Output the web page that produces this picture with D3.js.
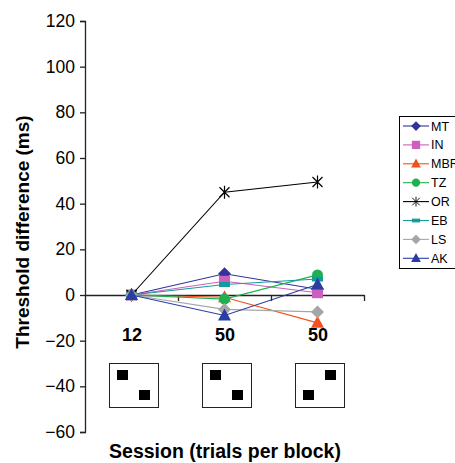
<!DOCTYPE html>
<html>
<head>
<meta charset="utf-8">
<script src="https://cdn.jsdelivr.net/npm/d3@7"></script>
<style>
  html, body { margin: 0; padding: 0; background: #fff; }
  svg { display: block; font-family: Arial, "Liberation Sans", sans-serif; }
</style>
</head>
<body>
<svg id="chart" width="455" height="463"></svg>
<script>
// ---- data ----
const sessionLabels = ["12", "50", "50"];
const seriesNames = ["MT", "IN", "MBR", "TZ", "OR", "EB", "LS", "AK"];
const MT  = [0, 9.3, 2.5];
const IN  = [0, 6, 1];
const MBR = [0, -1, -12.2];
const TZ  = [0, -1.8, 8.8];
const OR  = [0, 45, 49.5];
const EB  = [0, 4.6, 7];
const LS  = [0, -6.3, -7.4];
const AK  = [0, -9, 4.6];
const seriesValues = [MT, IN, MBR, TZ, OR, EB, LS, AK];
const seriesColors = ["#333399", "#CC5FBF", "#F2501E", "#1FB150", "#000000", "#139C9C", "#A6A6A6", "#2A3DA3"];
const seriesMarkers = ["diamond", "square", "triangle", "circle", "star", "bar", "diamond", "triangle"];
const yTicks = [-60, -40, -20, 0, 20, 40, 60, 80, 100, 120];
// stimulus pattern per session: positions of the two black squares ("TL" = top-left, etc.)
const stimulusPatterns = [["TL", "BR"], ["TL", "BR"], ["TR", "BL"]];

// ---- layout ----
const svg = d3.select("#chart");
const x = d3.scaleBand().domain(d3.range(sessionLabels.length)).range([85, 364]).padding(0);
const xLin = d3.scaleLinear().domain([0, sessionLabels.length]).range([85, 364]);
const y = d3.scaleLinear().domain([-60, 120]).range([432, 21]);
const cx = i => x(i) + x.bandwidth() / 2;

// y axis
const yAxis = svg.append("g").attr("transform", "translate(85,0)")
  .call(d3.axisLeft(y).tickValues(yTicks).tickSize(5).tickPadding(5).tickFormat(d3.format("d")));
yAxis.select(".domain").attr("stroke", "#222").attr("stroke-width", 1.3);
yAxis.selectAll(".tick line").attr("stroke", "#222").attr("stroke-width", 1.3);
yAxis.selectAll(".tick text").attr("font-size", 17.5).attr("fill", "#000")
  .attr("font-family", "Arial, 'Liberation Sans', sans-serif");

// x axis at y=0
const xAxis = svg.append("g").attr("transform", `translate(0,${y(0)})`)
  .call(d3.axisBottom(xLin).tickValues(d3.range(1, sessionLabels.length + 1)).tickSize(6).tickSizeOuter(0).tickFormat(""));
xAxis.select(".domain").attr("stroke", "#222").attr("stroke-width", 1.3);
xAxis.selectAll(".tick line").attr("stroke", "#222").attr("stroke-width", 1.3);

// category labels
svg.append("g").selectAll("text").data(sessionLabels).join("text")
  .attr("x", (d, i) => cx(i) + 0.5).attr("y", 341)
  .attr("text-anchor", "middle").attr("font-size", 18).attr("font-weight", "bold")
  .text(d => d);

// stimulus boxes
const boxW = 49, boxH = 44, boxTop = 363, sq = 11;
const sqPos = {
  TL: [8, 7], TR: [boxW - 8 - sq, 7], BL: [8, 27], BR: [boxW - 8 - sq, 27]
};
stimulusPatterns.forEach((pat, i) => {
  const g = svg.append("g").attr("transform", `translate(${cx(i) - boxW / 2 + 2},${boxTop})`);
  g.append("rect").attr("x", 0.5).attr("y", 0.5).attr("width", boxW).attr("height", boxH)
    .attr("fill", "#fff").attr("stroke", "#222").attr("stroke-width", 1);
  pat.forEach(p => {
    g.append("rect").attr("x", sqPos[p][0]).attr("y", sqPos[p][1]).attr("width", sq).attr("height", 10).attr("fill", "#000");
  });
});

// marker drawer
function drawMarker(g, type, color, px, py) {
  if (type === "diamond") {
    g.append("path").attr("d", `M${px},${py - 6.5}L${px + 6.5},${py}L${px},${py + 6.5}L${px - 6.5},${py}Z`).attr("fill", color);
  } else if (type === "square") {
    g.append("rect").attr("x", px - 5.5).attr("y", py - 5.5).attr("width", 11).attr("height", 11).attr("fill", color);
  } else if (type === "triangle") {
    g.append("path").attr("d", `M${px},${py - 7}L${px + 6.5},${py + 5}L${px - 6.5},${py + 5}Z`).attr("fill", color);
  } else if (type === "circle") {
    g.append("circle").attr("cx", px).attr("cy", py).attr("r", 5.5).attr("fill", color);
  } else if (type === "star") {
    g.append("path").attr("d",
      `M${px - 5},${py - 5}L${px + 5},${py + 5}M${px - 5},${py + 5}L${px + 5},${py - 5}M${px},${py - 6.5}L${px},${py + 6.5}`)
      .attr("stroke", color).attr("stroke-width", 1.2).attr("fill", "none");
  } else if (type === "bar") {
    g.append("rect").attr("x", px - 5.5).attr("y", py - 2.5).attr("width", 11).attr("height", 5).attr("fill", color);
  }
}

// series lines + markers
const line = d3.line().x((d, i) => cx(i)).y(d => y(d));
seriesNames.forEach((name, s) => {
  const g = svg.append("g");
  g.append("path").attr("d", line(seriesValues[s])).attr("fill", "none")
    .attr("stroke", seriesColors[s]).attr("stroke-width", 1.1);
  seriesValues[s].forEach((v, i) => drawMarker(g, seriesMarkers[s], seriesColors[s], cx(i), y(v)));
});

// legend
const lg = svg.append("g");
lg.append("rect").attr("x", 399.5).attr("y", 116.5).attr("width", 70).attr("height", 152)
  .attr("fill", "#fff").attr("stroke", "#000").attr("stroke-width", 1);
seriesNames.forEach((name, s) => {
  const ly = 126 + s * 18.9;
  lg.append("line").attr("x1", 403).attr("x2", 429).attr("y1", ly).attr("y2", ly)
    .attr("stroke", seriesColors[s]).attr("stroke-width", 1.1);
  const mg = lg.append("g").attr("transform", `translate(416,${ly}) scale(0.75) translate(-416,${-ly})`);
  drawMarker(mg, seriesMarkers[s], seriesColors[s], 416, ly);
  lg.append("text").attr("x", 431).attr("y", ly + 4.5).attr("font-size", 12.5).text(name);
});

// axis titles
svg.append("text").attr("x", 225).attr("y", 458).attr("text-anchor", "middle")
  .attr("font-size", 19.5).attr("font-weight", "bold").text("Session (trials per block)");
svg.append("text").attr("transform", "translate(29,232) rotate(-90)").attr("text-anchor", "middle")
  .attr("font-size", 19).attr("font-weight", "bold").text("Threshold difference (ms)");
</script>
</body>
</html>
